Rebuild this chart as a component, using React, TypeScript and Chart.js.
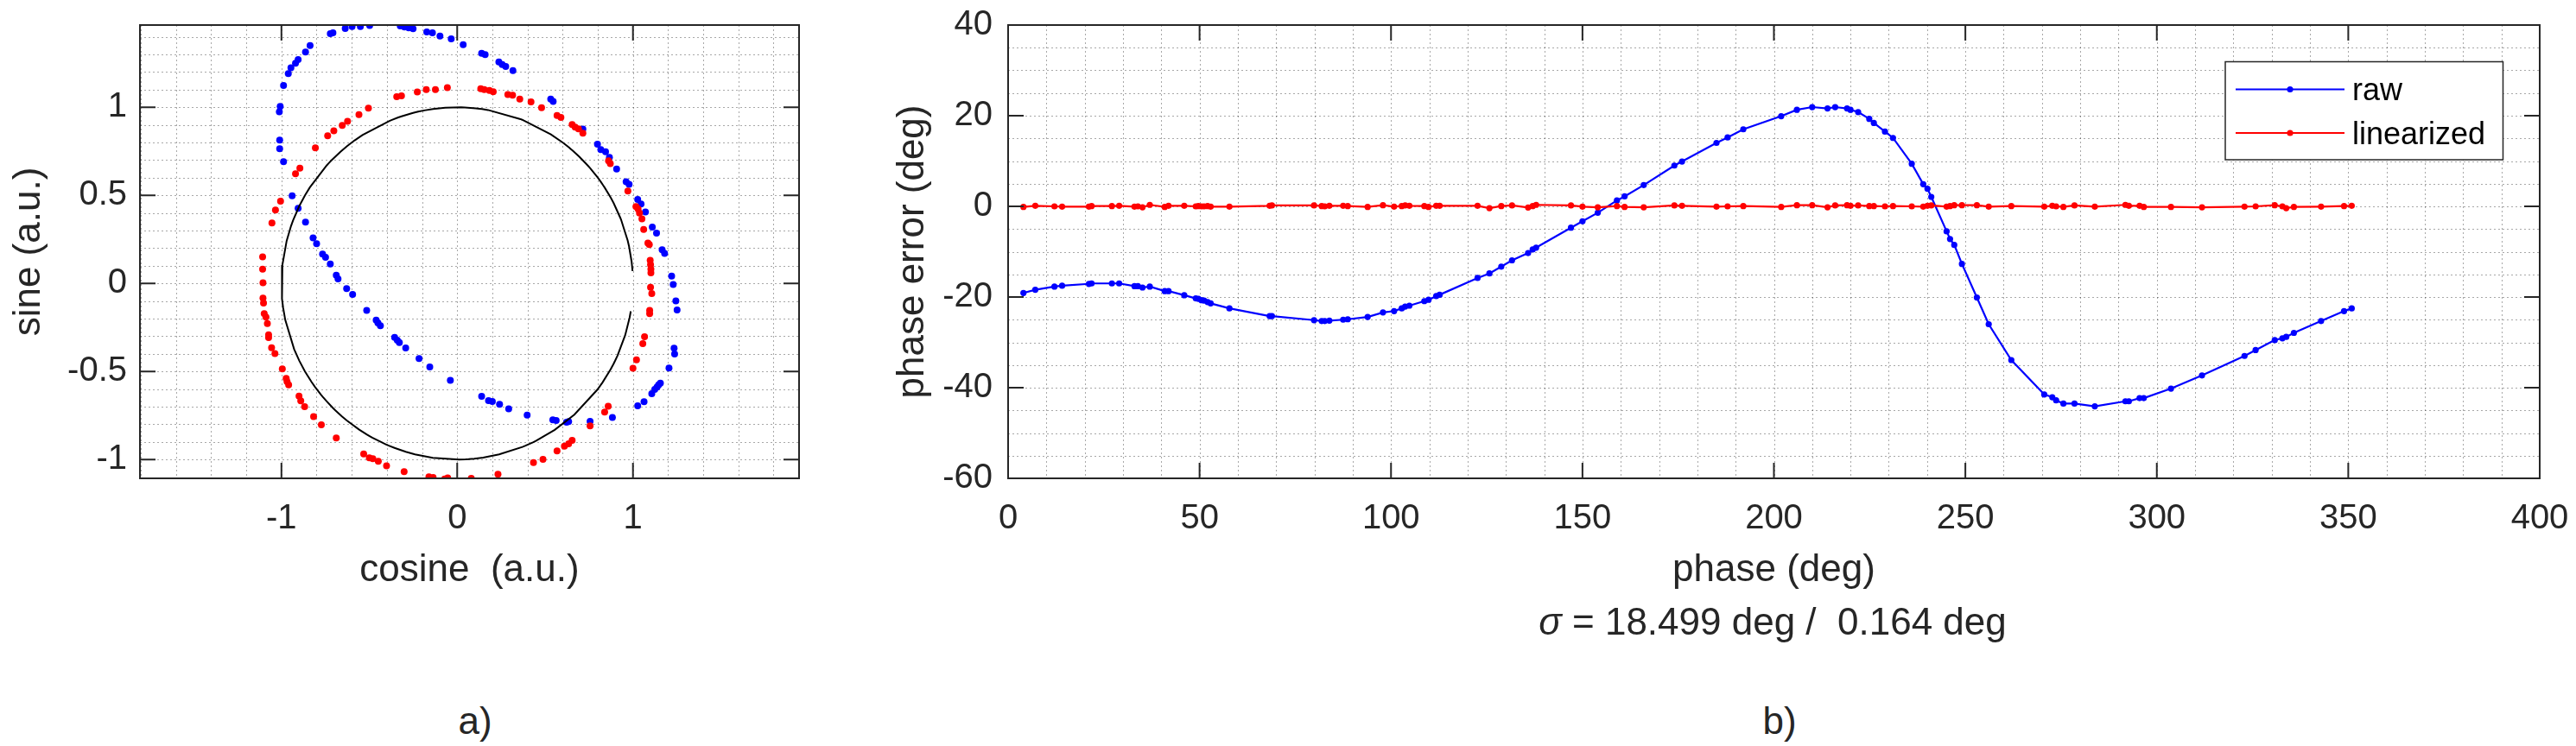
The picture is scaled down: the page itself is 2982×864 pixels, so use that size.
import React, { useEffect, useRef } from "react";
import { Chart, registerables } from "chart.js";

Chart.register(...registerables);

const FONT = '"Liberation Sans", Arial, Helvetica, sans-serif';
const AXIS_COLOR = "#262626";
const GRID_COLOR = "rgba(0,0,0,0.34)";
const BLUE = "#0000ff";
const RED = "#ff0000";

// ---------------- panel b) : phase error vs phase ----------------
const phaseDeg = [
  4.0, 7.1, 12.1, 14.1, 21.1, 21.8, 27.1, 29.0, 33.0, 33.9, 35.1, 37.0, 40.9, 41.9, 46.0, 49.0, 49.7, 50.5, 51.2, 52.1,
  52.9, 57.8, 68.3, 68.9, 79.9, 81.9, 82.7, 83.9, 87.5, 88.7, 93.9, 97.9, 100.8, 102.8, 103.7, 104.8, 108.7, 109.8, 111.8, 112.7,
  122.6, 125.7, 128.8, 131.6,
  135.8, 137.0, 137.9, 147.0, 150.0, 154.0, 159.0, 161.0, 166.0, 174.0, 176.0, 185.0, 187.9, 192.0, 201.9, 206.0, 210.0, 214.0,
  216.0, 219.1, 220.0, 222.0, 224.9, 226.1, 229.0, 231.1, 236.0, 239.0, 240.1, 241.1, 245.1, 246.0, 247.1, 249.1, 253.0, 256.1, 262.0,
  270.6, 272.7, 273.7, 275.6, 278.5, 283.8, 291.8, 292.7, 295.5, 296.6, 303.7, 311.8, 322.9, 325.8, 330.8, 332.8, 333.8, 335.8,
  342.9, 348.9, 350.9,
];

const rawErrorDeg = [
  -19.1, -18.4, -17.7, -17.5, -17.1, -17.0, -17.0, -17.0, -17.6, -17.6, -17.9, -17.7, -18.7, -18.7, -19.6, -20.3, -20.4, -20.7, -20.8, -21.1,
  -21.4, -22.5, -24.2, -24.2, -25.1, -25.3, -25.3, -25.2, -25.0, -24.9, -24.4, -23.4, -23.1, -22.5, -22.1, -21.9, -20.9, -20.6, -19.8, -19.5,
  -15.8, -14.8, -13.3, -11.9,
  -10.3, -9.5, -9.1, -4.7, -3.3, -1.4, 1.3, 2.2, 4.7, 9.0, 9.9, 14.0, 15.2, 17.0, 19.9, 21.3, 21.9, 21.6,
  21.9, 21.6, 21.3, 20.8, 19.3, 18.4, 16.5, 15.1, 9.4, 4.9, 3.9, 2.1, -5.5, -7.2, -8.5, -12.7, -20.1, -26.0, -33.9,
  -41.5, -42.1, -42.8, -43.5, -43.5, -44.1, -43.0, -43.0, -42.3, -42.3, -40.2, -37.3, -33.0, -31.7, -29.5, -29.1, -28.8, -27.9,
  -25.3, -23.1, -22.5,
];

const linErrorDeg = [
  -0.13, 0.13, 0, -0.07, -0.07, 0.07, 0.07, 0.13, -0.07, 0, -0.2, 0.33, -0.13, 0.13, 0.13, 0, 0.07, 0, 0, 0.07,
  -0.07, -0.07, 0.13, 0.2, 0.2, 0.07, 0, 0.13, 0.13, 0.07, -0.13, 0.26, -0.07, 0.07, 0.2, 0.13, 0.07, -0.13, 0.13, 0.13,
  0.13, -0.4, 0.07, 0.2,
  -0.26, 0.07, 0.33, 0.2, -0.07, -0.2, 0.07, -0.13, -0.2, 0.2, 0.13, -0.07, 0, 0.07, -0.13, 0.26, 0.26, -0.2,
  0.2, 0.26, 0.13, 0.2, 0.07, 0.07, 0, 0.07, 0, -0.07, 0.13, 0.2, -0.07, 0.07, 0.26, 0.26, 0.26, -0.07, 0.07,
  -0.07, 0.13, 0, -0.13, 0.2, -0.07, 0.33, 0.13, 0.13, -0.13, -0.13, -0.2, -0.07, 0, 0.26, 0, -0.4, -0.13,
  -0.07, 0.07, 0.13,
];

const rightXTicks = [0, 50, 100, 150, 200, 250, 300, 350, 400];
const rightYTicks = [-60, -40, -20, 0, 20, 40];

// ---------------- panel a) : sine vs cosine ----------------
const rawCos = [
  -0.722, -0.707, -0.637, -0.598, -0.551, -0.498, -0.324, -0.3, -0.276, -0.251, -0.173, -0.141, -0.098, -0.034, 0.034, 0.139,
  0.159, 0.237, 0.256, 0.276, 0.317, 0.532, 0.546, 0.715, 0.798, 0.817, 0.844, 0.866, 0.907, 0.961, 0.978, 1.027, 1.046, 1.071,
  1.11, 1.134, 1.166, 1.18, 1.22,
  1.229, 1.244, 1.251, 1.234, 1.237, 1.205, 1.156, 1.146, 1.137, 1.124, 1.107, 1.063, 1.027, 0.883, 0.756, 0.634, 0.622, 0.563,
  0.544, 0.398, 0.293, 0.241, 0.2, 0.178, 0.139, -0.039, -0.156, -0.217, -0.293, -0.329, -0.341, -0.356, -0.437, -0.451, -0.461,
  -0.515, -0.595, -0.629, -0.678, -0.688, -0.722, -0.749, -0.766, -0.8, -0.82,
  -0.863, -0.905, -0.939, -0.988, -1.01, -1.01, -1.012, -1.007, -0.988, -0.961, -0.946, -0.92, -0.905, -0.863, -0.837,
];
const rawSin = [
  1.418, 1.423, 1.448, 1.459, 1.459, 1.465, 1.462, 1.456, 1.451, 1.446, 1.428, 1.423, 1.404, 1.389, 1.355, 1.307,
  1.299, 1.258, 1.243, 1.232, 1.208, 1.046, 1.033, 0.876, 0.791, 0.76, 0.748, 0.716, 0.65, 0.577, 0.562, 0.477, 0.451, 0.405,
  0.32, 0.286, 0.191, 0.17, 0.042,
  -0.006, -0.1, -0.151, -0.368, -0.401, -0.481, -0.566, -0.576, -0.589, -0.602, -0.626, -0.672, -0.695, -0.761, -0.783, -0.785, -0.788, -0.778,
  -0.775, -0.748, -0.712, -0.687, -0.671, -0.666, -0.641, -0.55, -0.474, -0.427, -0.367, -0.336, -0.323, -0.306, -0.241, -0.225, -0.208,
  -0.154, -0.063, -0.03, 0.025, 0.047, 0.11, 0.148, 0.167, 0.225, 0.258,
  0.348, 0.426, 0.497, 0.691, 0.765, 0.814, 0.974, 1.005, 1.124, 1.191, 1.224, 1.25, 1.271, 1.314, 1.351,
];

const linCos = [
  -0.344, -0.317, -0.227, -0.176, -0.124, -0.056, 0.134, 0.154, 0.183, 0.205, 0.288, 0.315, 0.356, 0.42, 0.48, 0.568, 0.59,
  0.654, 0.671, 0.69, 0.715, 0.861, 0.871, 0.971, 1.017, 1.029, 1.037, 1.051, 1.061, 1.085, 1.093, 1.098, 1.1, 1.102, 1.102,
  1.1, 1.107, 1.095, 1.095, 1.066, 1.056, 1.02, 1.0, 0.859, 0.839, 0.756, 0.654, 0.634, 0.61, 0.568, 0.488, 0.434, 0.232, 0.08,
  -0.054, -0.071, -0.137, -0.161, -0.302, -0.402, -0.449, -0.48, -0.5, -0.532, -0.688, -0.773, -0.817, -0.868, -0.89, -0.9,
  -0.959, -0.968, -0.973, -0.995, -1.037, -1.056, -1.073, -1.073, -1.08, -1.088, -1.098, -1.102, -1.105, -1.105, -1.107, -1.107,
  -1.054, -1.034, -1.005, -0.92, -0.895, -0.807, -0.737, -0.702, -0.654, -0.624, -0.559, -0.505,
];
const linSin = [
  1.06, 1.065, 1.087, 1.101, 1.1, 1.111, 1.106, 1.1, 1.095, 1.088, 1.072, 1.069, 1.047, 1.031, 0.997, 0.953, 0.943,
  0.902, 0.887, 0.877, 0.853, 0.696, 0.68, 0.525, 0.436, 0.423, 0.4, 0.366, 0.306, 0.229, 0.221, 0.131, 0.106, 0.081, 0.06,
  -0.022, -0.058, -0.153, -0.172, -0.303, -0.342, -0.434, -0.482, -0.697, -0.731, -0.809, -0.891, -0.911, -0.924, -0.951, -0.999, -1.017, -1.084, -1.107,
  -1.105, -1.111, -1.102, -1.099, -1.069, -1.036, -1.01, -0.996, -0.991, -0.968, -0.878, -0.803, -0.756, -0.7, -0.667, -0.64,
  -0.576, -0.558, -0.54, -0.486, -0.398, -0.365, -0.308, -0.292, -0.228, -0.192, -0.172, -0.112, -0.084, 0.003, 0.081, 0.151,
  0.343, 0.417, 0.467, 0.623, 0.654, 0.77, 0.838, 0.866, 0.897, 0.92, 0.958, 0.995,
];

const leftXTicks = [-1, 0, 1];
const leftYTicks = [-1, -0.5, 0, 0.5, 1];

// grid line positions (major + minor)
function gridRange(a: number, b: number, step: number): number[] {
  const out: number[] = [];
  const n = Math.round((b - a) / step);
  for (let i = 0; i <= n; i++) out.push(+(a + i * step).toFixed(6));
  return out;
}
const leftXGrid = gridRange(-1.8, 1.8, 0.2);
const leftYGrid = gridRange(-1.1, 1.4, 0.1);
const rightXGrid = gridRange(10, 390, 10);
const rightYGrid = gridRange(-55, 35, 5);

// ---------------- MATLAB-like axes decoration plugin ----------------
const matlabAxes = {
  id: "matlabAxes",
  beforeDatasetsDraw(chart: any, _args: any, opts: any) {
    const { ctx, chartArea: a } = chart;
    const xs = chart.scales.x;
    const ys = chart.scales.y;
    ctx.save();
    ctx.strokeStyle = GRID_COLOR;
    ctx.lineWidth = 1;
    ctx.setLineDash([2, 3]);
    ctx.beginPath();
    for (const v of opts.xGrid) {
      const p = Math.round(xs.getPixelForValue(v)) + 0.5;
      ctx.moveTo(p, a.top);
      ctx.lineTo(p, a.bottom);
    }
    for (const v of opts.yGrid) {
      const p = Math.round(ys.getPixelForValue(v)) + 0.5;
      ctx.moveTo(a.left, p);
      ctx.lineTo(a.right, p);
    }
    ctx.stroke();
    ctx.restore();
  },
  afterDraw(chart: any, _args: any, opts: any) {
    const { ctx, chartArea: a } = chart;
    const xs = chart.scales.x;
    const ys = chart.scales.y;
    ctx.save();
    ctx.setLineDash([]);
    ctx.strokeStyle = AXIS_COLOR;
    ctx.lineWidth = 2;
    const L = 18;
    ctx.beginPath();
    for (const t of xs.ticks) {
      const p = xs.getPixelForValue(t.value);
      ctx.moveTo(p, a.bottom);
      ctx.lineTo(p, a.bottom - L);
      ctx.moveTo(p, a.top);
      ctx.lineTo(p, a.top + L);
    }
    for (const t of ys.ticks) {
      const p = ys.getPixelForValue(t.value);
      ctx.moveTo(a.left, p);
      ctx.lineTo(a.left + L, p);
      ctx.moveTo(a.right, p);
      ctx.lineTo(a.right - L, p);
    }
    ctx.stroke();
    ctx.strokeRect(a.left, a.top, a.right - a.left, a.bottom - a.top);

    if (opts.legend) {
      const bx = a.right - 364;
      const by = a.top + 42.5;
      const bw = 321.5;
      const bh = 113.5;
      ctx.fillStyle = "#ffffff";
      ctx.fillRect(bx, by, bw, bh);
      ctx.lineWidth = 1.5;
      ctx.strokeStyle = AXIS_COLOR;
      ctx.strokeRect(bx, by, bw, bh);
      const rows = opts.legend as { label: string; color: string }[];
      const rowY = [a.top + 74.5, a.top + 125];
      rows.forEach((r, i) => {
        const y = rowY[i];
        ctx.strokeStyle = r.color;
        ctx.lineWidth = 2.2;
        ctx.beginPath();
        ctx.moveTo(a.right - 352, y);
        ctx.lineTo(a.right - 226, y);
        ctx.stroke();
        ctx.fillStyle = r.color;
        ctx.beginPath();
        ctx.arc(a.right - 289, y, 3.6, 0, Math.PI * 2);
        ctx.fill();
        ctx.fillStyle = "#000000";
        ctx.font = `36px ${FONT}`;
        ctx.textAlign = "left";
        ctx.textBaseline = "middle";
        ctx.fillText(r.label, a.right - 217, y + 3);
      });
    }
    ctx.restore();
  },
};

const tickFont = { family: FONT, size: 40 };
const titleFont = { family: FONT, size: 44 };

function fixedTicks(values: number[]) {
  return (scale: any) => {
    scale.ticks = values.map((v) => ({ value: v }));
  };
}

function LeftPanel() {
  const ref = useRef<HTMLCanvasElement | null>(null);
  useEffect(() => {
    if (!ref.current) return;
    const circle = phaseDeg.map((p) => ({
      x: Math.cos((p * Math.PI) / 180),
      y: Math.sin((p * Math.PI) / 180),
    }));
    const raw = rawCos.map((c, i) => ({ x: c, y: rawSin[i] }));
    const lin = linCos.map((c, i) => ({ x: c, y: linSin[i] }));
    const chart = new Chart(ref.current, {
      type: "scatter",
      data: {
        datasets: [
          {
            label: "unit circle",
            data: circle,
            showLine: true,
            borderColor: "#000000",
            borderWidth: 2,
            pointRadius: 0,
            fill: false,
            tension: 0,
            clip: 0,
          } as any,
          {
            label: "linearized",
            data: lin,
            pointRadius: 4,
            pointBorderWidth: 0,
            pointBackgroundColor: RED,
            backgroundColor: RED,
            borderColor: RED,
            clip: 0,
          } as any,
          {
            label: "raw",
            data: raw,
            pointRadius: 4,
            pointBorderWidth: 0,
            pointBackgroundColor: BLUE,
            backgroundColor: BLUE,
            borderColor: BLUE,
            clip: 0,
          } as any,
        ],
      },
      options: {
        responsive: false,
        maintainAspectRatio: false,
        animation: false,
        devicePixelRatio: 1,
        layout: { padding: { left: 0, top: 29, right: 35, bottom: 0 } },
        plugins: {
          legend: { display: false },
          tooltip: { enabled: false },
          matlabAxes: { xGrid: leftXGrid, yGrid: leftYGrid },
        } as any,
        scales: {
          x: {
            type: "linear",
            min: -1.805,
            max: 1.945,
            afterBuildTicks: fixedTicks(leftXTicks),
            afterFit: (s: any) => {
              s.height = 146;
              s.paddingLeft = 0;
              s.paddingRight = 0;
            },
            grid: { display: false, drawTicks: false },
            border: { display: false },
            ticks: {
              font: tickFont,
              color: AXIS_COLOR,
              padding: 23,
              maxRotation: 0,
              autoSkip: false,
              callback: (v: any) => String(v),
            },
            title: {
              display: true,
              text: "cosine  (a.u.)",
              font: titleFont,
              color: AXIS_COLOR,
              padding: { top: 0, bottom: 12.8 },
            },
          },
          y: {
            type: "linear",
            min: -1.107,
            max: 1.467,
            afterBuildTicks: fixedTicks(leftYTicks),
            afterFit: (s: any) => {
              s.width = 162;
              s.paddingTop = 0;
              s.paddingBottom = 0;
            },
            grid: { display: false, drawTicks: false },
            border: { display: false },
            ticks: {
              font: tickFont,
              color: AXIS_COLOR,
              padding: 15,
              autoSkip: false,
              callback: (v: any) => String(v),
            },
            title: {
              display: true,
              text: "sine (a.u.)",
              font: titleFont,
              color: AXIS_COLOR,
              padding: { top: 7.6, bottom: 0 },
            },
          },
        },
      } as any,
      plugins: [matlabAxes as any],
    });
    return () => chart.destroy();
  }, []);
  return (
    <canvas
      ref={ref}
      width={960}
      height={700}
      style={{ position: "absolute", left: 0, top: 0, width: 960, height: 700 }}
    />
  );
}

function RightPanel() {
  const ref = useRef<HTMLCanvasElement | null>(null);
  useEffect(() => {
    if (!ref.current) return;
    const raw = phaseDeg.map((p, i) => ({ x: p, y: rawErrorDeg[i] }));
    const lin = phaseDeg.map((p, i) => ({ x: p, y: linErrorDeg[i] }));
    const chart = new Chart(ref.current, {
      type: "line",
      data: {
        datasets: [
          {
            label: "linearized",
            data: lin,
            borderColor: RED,
            backgroundColor: RED,
            borderWidth: 2.2,
            pointRadius: 3.6,
            pointBorderWidth: 0,
            pointBackgroundColor: RED,
            tension: 0,
            fill: false,
          } as any,
          {
            label: "raw",
            data: raw,
            borderColor: BLUE,
            backgroundColor: BLUE,
            borderWidth: 2.2,
            pointRadius: 3.6,
            pointBorderWidth: 0,
            pointBackgroundColor: BLUE,
            tension: 0,
            fill: false,
          } as any,
        ],
      },
      options: {
        responsive: false,
        maintainAspectRatio: false,
        animation: false,
        devicePixelRatio: 1,
        layout: { padding: { left: 0, top: 29, right: 42, bottom: 0 } },
        plugins: {
          legend: { display: false },
          tooltip: { enabled: false },
          matlabAxes: {
            xGrid: rightXGrid,
            yGrid: rightYGrid,
            legend: [
              { label: "raw", color: BLUE },
              { label: "linearized", color: RED },
            ],
          },
        } as any,
        scales: {
          x: {
            type: "linear",
            min: 0,
            max: 400,
            afterBuildTicks: fixedTicks(rightXTicks),
            afterFit: (s: any) => {
              s.height = 146;
              s.paddingLeft = 0;
              s.paddingRight = 0;
            },
            grid: { display: false, drawTicks: false },
            border: { display: false },
            ticks: {
              font: tickFont,
              color: AXIS_COLOR,
              padding: 23,
              maxRotation: 0,
              autoSkip: false,
              callback: (v: any) => String(v),
            },
            title: {
              display: true,
              text: "phase (deg)",
              font: titleFont,
              color: AXIS_COLOR,
              padding: { top: 0, bottom: 12.8 },
            },
          },
          y: {
            type: "linear",
            min: -60,
            max: 40,
            afterBuildTicks: fixedTicks(rightYTicks),
            afterFit: (s: any) => {
              s.width = 187;
              s.paddingTop = 0;
              s.paddingBottom = 0;
            },
            grid: { display: false, drawTicks: false },
            border: { display: false },
            ticks: {
              font: tickFont,
              color: AXIS_COLOR,
              padding: 18,
              autoSkip: false,
              callback: (v: any) => String(v),
            },
            title: {
              display: true,
              text: "phase error (deg)",
              font: titleFont,
              color: AXIS_COLOR,
              padding: { top: 50.6, bottom: 0 },
            },
          },
        },
      } as any,
      plugins: [matlabAxes as any],
    });
    return () => chart.destroy();
  }, []);
  return (
    <canvas
      ref={ref}
      width={2002}
      height={700}
      style={{ position: "absolute", left: 980, top: 0, width: 2002, height: 700 }}
    />
  );
}

const textStyle: React.CSSProperties = {
  position: "absolute",
  fontFamily: FONT,
  fontSize: 44,
  lineHeight: "52px",
  color: AXIS_COLOR,
  whiteSpace: "pre",
  textAlign: "center",
  width: 800,
};

export default function App() {
  return (
    <div
      style={{
        position: "absolute",
        left: 0,
        top: 0,
        width: 2982,
        height: 864,
        background: "#ffffff",
        overflow: "hidden",
      }}
    >
      <LeftPanel />
      <RightPanel />
      <div style={{ ...textStyle, left: 2052 - 400, top: 694 }}>
        <i>σ</i>
        {" = 18.499 deg /  0.164 deg"}
      </div>
      <div style={{ ...textStyle, left: 550 - 400, top: 809 }}>a)</div>
      <div style={{ ...textStyle, left: 2060 - 400, top: 809 }}>b)</div>
    </div>
  );
}
